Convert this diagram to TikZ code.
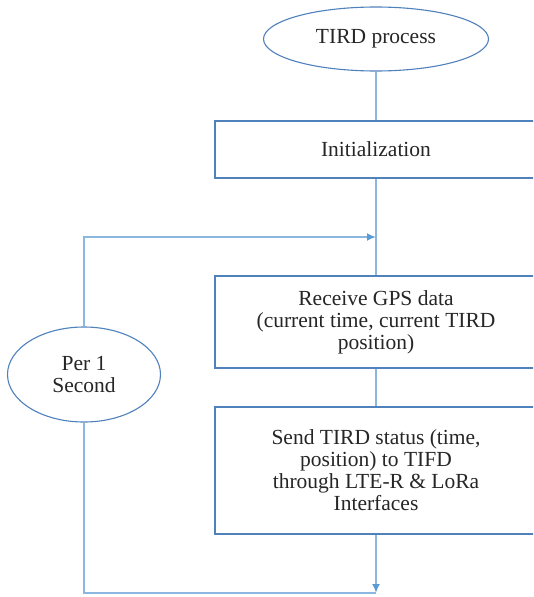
\documentclass[tikz,border=0pt]{standalone}
\usepackage{fontspec}
\setmainfont{Liberation Serif}
\usetikzlibrary{shapes.geometric,arrows.meta}
\definecolor{boxline}{HTML}{4F81BD}
\definecolor{connline}{HTML}{8AB6E0}
\definecolor{tipcol}{HTML}{5B9BD5}
\begin{document}
\begin{tikzpicture}[x=1pt,y=-1pt,
  every node/.style={font=\fontsize{21.5}{22}\selectfont, text=black!85, align=center, inner sep=0pt},
  oval/.style={ellipse, draw=boxline, line width=1.1pt, fill=white},
  procbox/.style={rectangle, draw=boxline, line width=1.1pt, fill=white},
  conn/.style={draw=connline, line width=2pt},
  tip/.style={-{Latex[length=9pt,width=8pt,color=tipcol]}}
]
\useasboundingbox (0,0) rectangle (533,597);
\clip (0,0) rectangle (533,597);
\node[oval, minimum width=225pt, minimum height=64pt] (tird) at (376,39) {TIRD process};
\node[procbox, minimum width=322pt, minimum height=57pt] (init) at (376,149.5) {Initialization};
\node[procbox, minimum width=322pt, minimum height=92pt] (recv) at (376,322) {Receive GPS data\\(current time, current TIRD\\position)};
\node[procbox, minimum width=322pt, minimum height=127pt] (send) at (376,470.5) {Send TIRD status (time,\\position) to TIFD\\through LTE-R \& LoRa\\Interfaces};
\node[oval, minimum width=153pt, minimum height=95pt] (per) at (84,374.5) {Per 1\\Second};
\coordinate (j1) at (376,237);
\coordinate (j2) at (376,593);
\draw[conn] (tird.south) -- (init.north -| tird.south);
\draw[conn] (init.south -| tird.south) -- (recv.north -| tird.south);
\draw[conn,tip] (per.north) |- (j1);
\draw[conn] (recv.south -| tird.south) -- (send.north -| tird.south);
\draw[conn,tip] (send.south -| tird.south) -- (j2);
\draw[conn] (per.south) |- (j2);
\end{tikzpicture}
\end{document}
